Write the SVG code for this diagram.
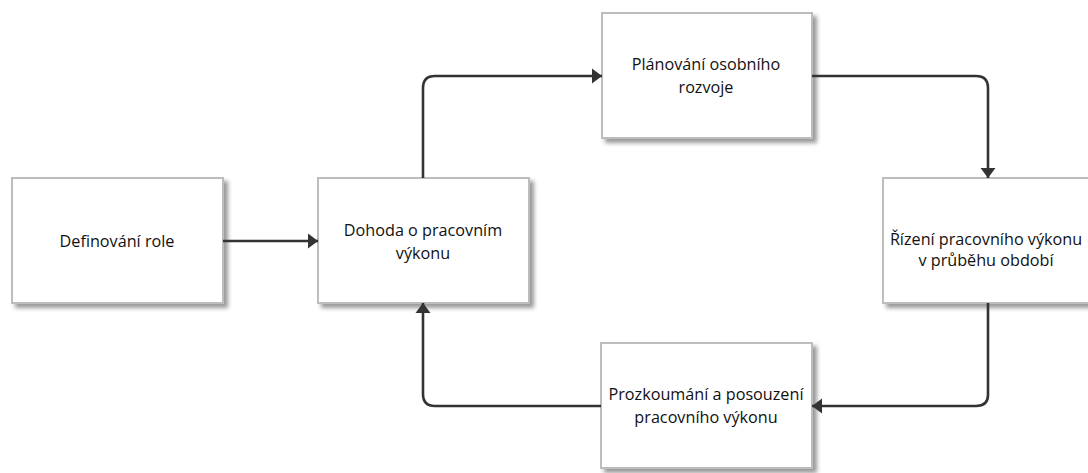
<svg xmlns="http://www.w3.org/2000/svg" width="1088" height="473" viewBox="0 0 1088 473">
<defs>
<filter id="sh" x="-10%" y="-10%" width="130%" height="130%">
<feDropShadow dx="4" dy="4" stdDeviation="2.2" flood-color="#000" flood-opacity="0.4"/>
</filter>
<marker id="ah" viewBox="0 0 10 15" refX="10" refY="7.5" markerWidth="4" markerHeight="6" orient="auto" markerUnits="strokeWidth">
<path d="M0,0 L10,7.5 L0,15 z" fill="#333"/>
</marker>
</defs>
<style>
.box{fill:#fff;stroke:#bdbdbd;stroke-width:2;filter:url(#sh)}
.t{font-family:"Open Sans","Noto Sans",sans-serif;font-size:16.2px;fill:#111;text-anchor:middle}
.c{fill:none;stroke:#333;stroke-width:2.6;marker-end:url(#ah)}
</style>
<rect width="1088" height="473" fill="#fff"/>
<g id="n1"><rect class="box" x="12" y="178" width="211" height="125"/><text class="t" x="117" y="247">Definování role</text></g>
<g id="n2"><rect class="box" x="318" y="178" width="211" height="125"/><text class="t" x="423" y="236">Dohoda o pracovním</text><text class="t" x="423" y="259">výkonu</text></g>
<g id="n3"><rect class="box" x="602" y="13" width="210" height="125"/><text class="t" x="706" y="70">Plánování osobního</text><text class="t" x="706" y="93">rozvoje</text></g>
<g id="n4"><rect class="box" x="883" y="178" width="208" height="125"/><text class="t" x="986" y="245">Řízení pracovního výkonu</text><text class="t" x="986" y="266">v průběhu období</text></g>
<g id="n5"><rect class="box" x="601" y="343" width="211" height="125"/><text class="t" x="706" y="400">Prozkoumání a posouzení</text><text class="t" x="706" y="423">pracovního výkonu</text></g>
<g id="connectors">
<path class="c" d="M223,241 H318"/>
<path class="c" d="M423,178 V88 Q423,76 435,76 H602"/>
<path class="c" d="M812,76 H976 Q988,76 988,88 V178"/>
<path class="c" d="M988,303 V395 Q988,406 976,406 H812"/>
<path class="c" d="M601,406 H435 Q423,406 423,394 V303"/>
</g>
</svg>
